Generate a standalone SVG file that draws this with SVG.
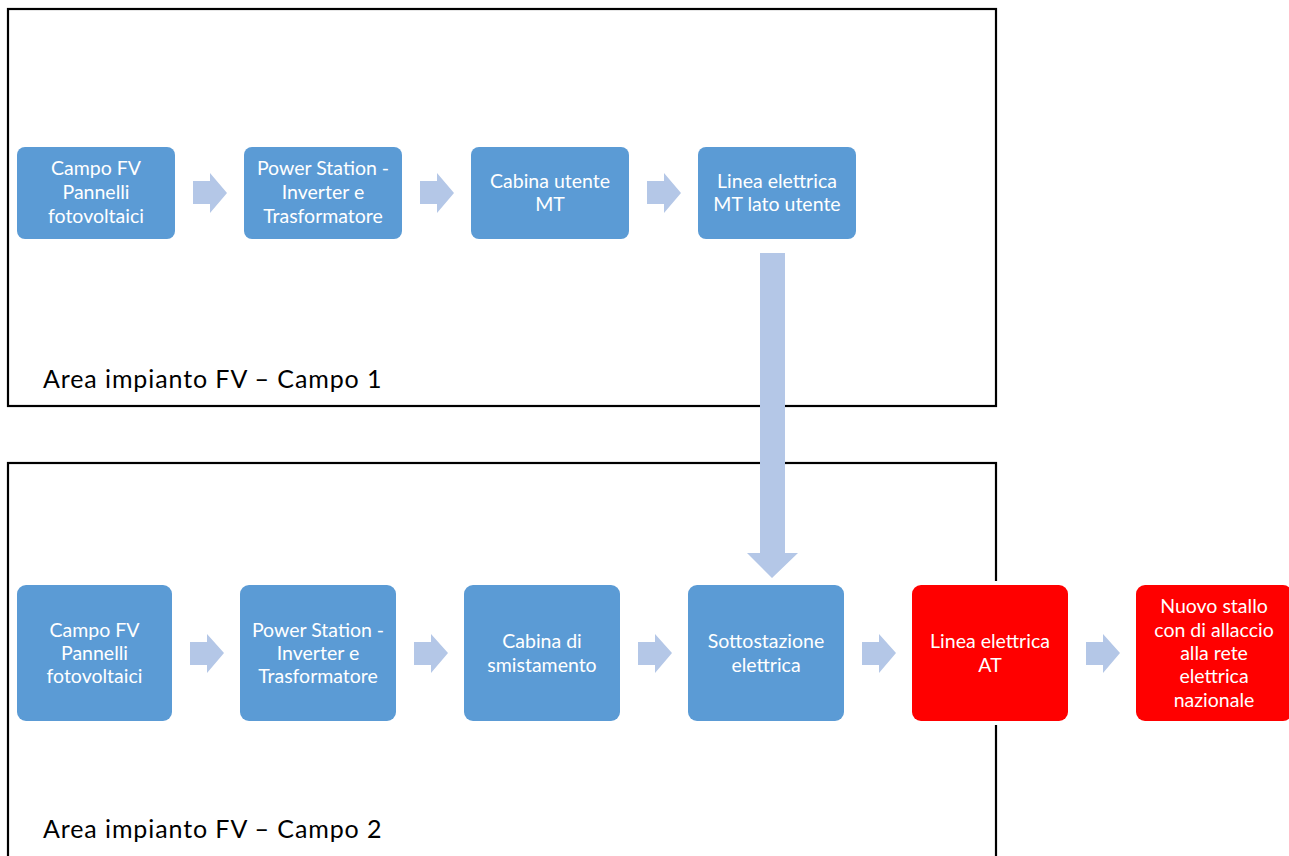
<svg xmlns="http://www.w3.org/2000/svg" width="1289" height="856" viewBox="0 0 1289 856">
<style>
.area{fill:none;stroke:#000;stroke-width:2.2}
.node{fill:#5B9BD5}
.red{fill:#FF0000}
.arr{fill:#B4C7E7}
.t{font-family:Lato,"Open Sans",sans-serif;font-size:19.5px;fill:#fff;text-anchor:middle}
.lbl{font-family:Lato,"Open Sans",sans-serif;font-size:25px;letter-spacing:0.9px;fill:#000}
</style>
<rect width="1289" height="856" fill="#fff"/>
<g id="area1">
<rect class="area" x="8" y="9" width="988" height="397"/>
<text class="lbl" x="43" y="388">Area impianto FV – Campo 1</text>
</g>
<g id="area2">
<rect class="area" x="8" y="463" width="988" height="410"/>
<text class="lbl" x="43" y="838">Area impianto FV – Campo 2</text>
</g>
<g id="connectors">
<polygon class="arr" points="193,181 210,181 210,173 227,193 210,213 210,204 193,204"/>
<polygon class="arr" points="420,181 437,181 437,173 454,193 437,213 437,204 420,204"/>
<polygon class="arr" points="647,181 664,181 664,173 681,193 664,213 664,204 647,204"/>
<polygon class="arr" points="760,253 785,253 785,553 798,553 772,578 747,553 760,553"/>
<polygon class="arr" points="190,642 207,642 207,634 224,653 207,673 207,665 190,665"/>
<polygon class="arr" points="414,642 431,642 431,634 448,653 431,673 431,665 414,665"/>
<polygon class="arr" points="638,642 655,642 655,634 672,653 655,673 655,665 638,665"/>
<polygon class="arr" points="862,642 879,642 879,634 896,653 879,673 879,665 862,665"/>
<polygon class="arr" points="1086,642 1103,642 1103,634 1120,653 1103,673 1103,665 1086,665"/>
</g>
<g id="n1"><rect class="node" x="17" y="147" width="158" height="92" rx="8"/>
<text class="t" x="96" y="175">Campo FV</text><text class="t" x="96" y="199">Pannelli</text><text class="t" x="96" y="223">fotovoltaici</text></g>
<g id="n2"><rect class="node" x="244" y="147" width="158" height="92" rx="8"/>
<text class="t" x="323" y="175">Power Station -</text><text class="t" x="323" y="199">Inverter e</text><text class="t" x="323" y="223">Trasformatore</text></g>
<g id="n3"><rect class="node" x="471" y="147" width="158" height="92" rx="8"/>
<text class="t" x="550" y="188">Cabina utente</text><text class="t" x="550" y="211">MT</text></g>
<g id="n4"><rect class="node" x="698" y="147" width="158" height="92" rx="8"/>
<text class="t" x="777" y="188">Linea elettrica</text><text class="t" x="777" y="211">MT lato utente</text></g>
<g id="m1"><rect class="node" x="17" y="585" width="155" height="136" rx="9"/>
<text class="t" x="94.5" y="637">Campo FV</text><text class="t" x="94.5" y="660">Pannelli</text><text class="t" x="94.5" y="683">fotovoltaici</text></g>
<g id="m2"><rect class="node" x="240" y="585" width="156" height="136" rx="9"/>
<text class="t" x="318" y="637">Power Station -</text><text class="t" x="318" y="660">Inverter e</text><text class="t" x="318" y="683">Trasformatore</text></g>
<g id="m3"><rect class="node" x="464" y="585" width="156" height="136" rx="9"/>
<text class="t" x="542" y="648">Cabina di</text><text class="t" x="542" y="672">smistamento</text></g>
<g id="m4"><rect class="node" x="688" y="585" width="156" height="136" rx="9"/>
<text class="t" x="766" y="648">Sottostazione</text><text class="t" x="766" y="672">elettrica</text></g>
<g id="m5"><rect x="908" y="581" width="164" height="144" fill="#fff"/><rect class="red" x="912" y="585" width="156" height="136" rx="9"/>
<text class="t" x="990" y="648">Linea elettrica</text><text class="t" x="990" y="672">AT</text></g>
<g id="m6"><rect class="red" x="1136" y="585" width="156" height="136" rx="9"/>
<text class="t" x="1214" y="613">Nuovo stallo</text><text class="t" x="1214" y="637">con di allaccio</text><text class="t" x="1214" y="660">alla rete</text><text class="t" x="1214" y="683">elettrica</text><text class="t" x="1214" y="707">nazionale</text></g>
</svg>
